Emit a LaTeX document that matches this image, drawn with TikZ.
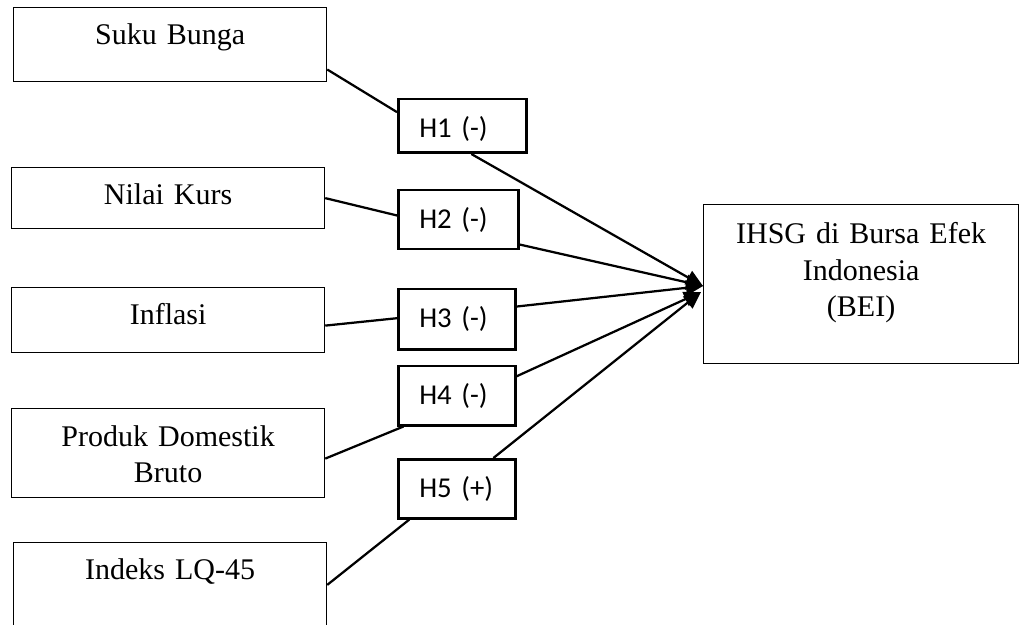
\documentclass[tikz,border=0pt]{standalone}
\usepackage{fontspec}
\setmainfont{Liberation Serif}
\newfontfamily\hfont{Carlito}
\usetikzlibrary{arrows.meta}
\tikzset{
  varbox/.style={draw,line width=0.5pt,inner sep=0pt,anchor=north west,text width=125.2pt,align=center,text height=14.8pt,font=\fontsize{12}{14.4}\selectfont},
  hypbox/.style={draw,line width=1pt,inner ysep=0pt,inner xsep=8.4pt,anchor=north west,align=left,text height=15.4pt,font=\hfont\fontsize{11.5}{13}\selectfont},
  link/.style={line width=0.9pt},
  arrowlink/.style={link,-{Triangle[length=6.8pt,width=6pt]}},
}
\begin{document}
\begin{tikzpicture}[x=0.4pt,y=-0.4pt]
        \useasboundingbox (0,0) rectangle (1020,625);
        \node[varbox,text depth=14.8pt] (sb) at (13,7) {Suku Bunga};
        \node[varbox,text depth=9.6pt] (nk) at (11,167) {Nilai Kurs};
        \node[varbox,text depth=11.2pt] (inf) at (11,287) {Inflasi};
        \node[varbox,text height=15.2pt,text depth=20.4pt] (pdb) at (11,408) {Produk Domestik\\Bruto};
        \node[varbox,text depth=21.2pt] (lq) at (13,542) {Indeks LQ-45};
        \node[varbox,text width=126pt,text height=15.6pt,text depth=48pt,font=\fontsize{12}{14.6}\selectfont] (bei) at (703,204) {IHSG di Bursa Efek\\Indonesia\\(BEI)};
        \node[hypbox,text width=34.4pt,text depth=6pt] (h1) at (397,98) {H1 (-)};
        \node[hypbox,text width=31.2pt,text depth=8.2pt] (h2) at (397,189) {H2 (-)};
        \node[hypbox,text width=30pt,text depth=8.6pt] (h3) at (397,288) {H3 (-)};
        \node[hypbox,text width=30pt,text depth=8.2pt] (h4) at (397,365) {H4 (-)};
        \node[hypbox,text width=30pt,text depth=8.2pt] (h5) at (397,458) {H5 (+)};
        \coordinate (tipa) at (703,286);
        \coordinate (tipb) at (701,292);
        \draw[link] (sb.-9) -- (h1.168);
        \draw[link] (nk.east) -- (h2.176);
        \draw[link] (inf.-2) -- (h3.179);
        \draw[link] (pdb.-2) -- (h4.210);
        \draw[link] (lq.1.5) -- (h5.213);
        \draw[arrowlink] (h1.-72) -- (tipa);
        \draw[arrowlink] (h2.-22) -- (tipa);
        \draw[arrowlink] (h3.12) -- (tipa);
        \draw[arrowlink] (h4.18) -- (tipb);
        \draw[arrowlink] (h5.40) -- (tipb);
\end{tikzpicture}
\end{document}
